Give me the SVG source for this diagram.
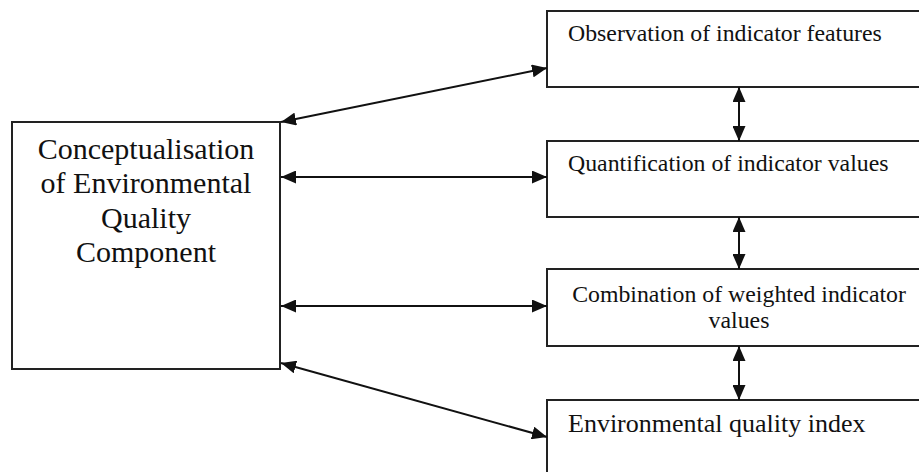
<svg xmlns="http://www.w3.org/2000/svg" width="919" height="472" viewBox="0 0 919 472">
<style>
.box{fill:#fff;stroke:#222;stroke-width:2}
.t{font-family:"Liberation Serif","Times New Roman",serif;fill:#111}
.big{font-size:30px;text-anchor:middle}
.mid{font-size:23.8px}
.ctr{text-anchor:middle}
.c{stroke:#111;stroke-width:2;fill:none;marker-start:url(#ah);marker-end:url(#ah)}
</style>
<defs>
<marker id="ah" markerUnits="userSpaceOnUse" markerWidth="15" markerHeight="13" refX="15" refY="6.5" orient="auto-start-reverse">
<path d="M0,0 L15,6.5 L0,13 z" fill="#111"/>
</marker>
</defs>
<rect width="919" height="472" fill="#fff"/>
<g id="concept">
<rect class="box" x="12" y="122" width="268" height="247"/>
<text class="t big" x="146" y="159">Conceptualisation</text>
<text class="t big" x="146" y="193">of Environmental</text>
<text class="t big" x="146" y="228">Quality</text>
<text class="t big" x="146" y="262">Component</text>
</g>
<g id="observation">
<rect class="box" x="547" y="11" width="390" height="76"/>
<text class="t mid" x="568" y="41">Observation of indicator features</text>
</g>
<g id="quantification">
<rect class="box" x="547" y="141" width="390" height="76"/>
<text class="t mid" x="568" y="171">Quantification of indicator values</text>
</g>
<g id="combination">
<rect class="box" x="547" y="269" width="390" height="77"/>
<text class="t mid ctr" x="739" y="302">Combination of weighted indicator</text>
<text class="t mid ctr" x="739" y="328">values</text>
</g>
<g id="index">
<rect class="box" x="547" y="400" width="390" height="90"/>
<text class="t" font-size="26" x="568" y="432">Environmental quality index</text>
</g>
<g id="connectors">
<line class="c" x1="281" y1="122" x2="547" y2="68"/>
<line class="c" x1="281" y1="177" x2="547" y2="177"/>
<line class="c" x1="281" y1="306" x2="547" y2="306"/>
<line class="c" x1="281" y1="363" x2="547" y2="437"/>
<line class="c" x1="739" y1="87" x2="739" y2="141"/>
<line class="c" x1="739" y1="217" x2="739" y2="269"/>
<line class="c" x1="739" y1="346" x2="739" y2="400"/>
</g>
</svg>
